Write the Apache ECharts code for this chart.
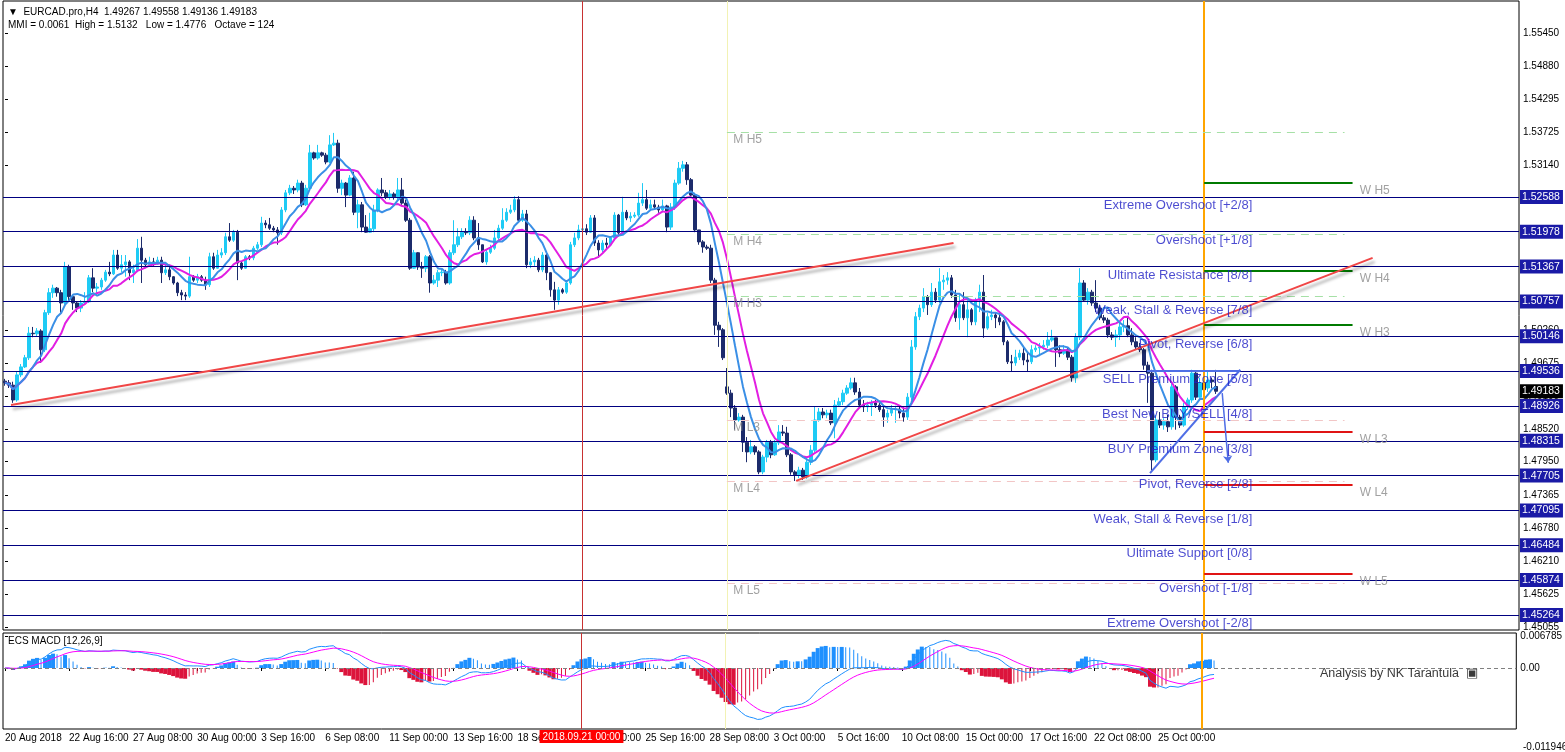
<!DOCTYPE html>
<html>
<head>
<meta charset="utf-8">
<title>EURCAD.pro,H4</title>
<script src="https://cdn.jsdelivr.net/npm/echarts@6/dist/echarts.min.js"></script>
<style>
html,body{margin:0;padding:0;background:#ffffff;}
#chart{width:1565px;height:752px;}
</style>
</head>
<body>
<div id="chart"></div>
<script>
// ================= DATA =================
const open = [
1.4936,1.4933,1.4929,1.4903,1.4947,1.4961,1.4977,1.5020,1.5019,1.5024,
1.4991,1.5056,1.5091,1.5099,1.5091,1.5073,1.5136,1.5084,1.5073,1.5064,
1.5073,1.5075,1.5117,1.5099,1.5101,1.5113,1.5127,1.5124,1.5157,1.5134,
1.5140,1.5145,1.5126,1.5131,1.5169,1.5148,1.5140,1.5145,1.5141,1.5148,
1.5126,1.5131,1.5119,1.5108,1.5091,1.5087,1.5085,1.5119,1.5113,1.5119,
1.5113,1.5105,1.5154,1.5134,1.5157,1.5161,1.5189,1.5183,1.5197,1.5143,
1.5134,1.5154,1.5152,1.5169,1.5175,1.5213,1.5210,1.5204,1.5201,1.5196,
1.5236,1.5266,1.5274,1.5271,1.5283,1.5245,1.5274,1.5336,1.5327,1.5336,
1.5332,1.5320,1.5350,1.5353,1.5274,1.5283,1.5262,1.5292,1.5232,1.5245,
1.5206,1.5197,1.5203,1.5236,1.5271,1.5266,1.5259,1.5264,1.5259,1.5271,
1.5248,1.5218,1.5134,1.5161,1.5136,1.5134,1.5154,1.5108,1.5113,1.5126,
1.5127,1.5108,1.5161,1.5175,1.5189,1.5197,1.5196,1.5218,1.5187,1.5175,
1.5145,1.5162,1.5169,1.5187,1.5204,1.5218,1.5232,1.5236,1.5254,1.5218,
1.5229,1.5140,1.5145,1.5148,1.5131,1.5157,1.5126,1.5096,1.5078,1.5096,
1.5092,1.5108,1.5175,1.5187,1.5201,1.5203,1.5197,1.5222,1.5178,1.5166,
1.5178,1.5175,1.5187,1.5227,1.5196,1.5232,1.5222,1.5225,1.5227,1.5248,
1.5254,1.5239,1.5245,1.5241,1.5236,1.5243,1.5206,1.5241,1.5283,1.5309,
1.5315,1.5289,1.5262,1.5201,1.5180,1.5171,1.5169,1.5113,1.5034,1.5026,
1.4926,1.4915,1.4889,1.4868,1.4873,1.4829,1.4812,1.4821,1.4812,1.4777,
1.4803,1.4829,1.4807,1.4828,1.4847,1.4845,1.4807,1.4777,1.4772,1.4780,
1.4768,1.4794,1.4815,1.4868,1.4882,1.4877,1.4880,1.4863,1.4894,1.4900,
1.4915,1.4924,1.4933,1.4917,1.4894,1.4891,1.4894,1.4898,1.4894,1.4886,
1.4873,1.4880,1.4886,1.4887,1.4880,1.4873,1.4908,1.4996,1.5049,1.5064,
1.5084,1.5070,1.5092,1.5078,1.5110,1.5113,1.5117,1.5087,1.5047,1.5070,
1.5047,1.5061,1.5040,1.5078,1.5092,1.5029,1.5049,1.5052,1.5047,1.5040,
1.5005,1.4970,1.4968,1.4978,1.4985,1.4973,1.4970,1.4991,1.4994,1.4996,
1.4999,1.5008,1.5012,1.4991,1.4985,1.4991,1.4978,1.4942,1.5013,1.5108,
1.5078,1.5092,1.5073,1.5064,1.5047,1.5043,1.5017,1.5013,1.5017,1.5031,
1.5033,1.5017,1.5005,1.4996,1.4991,1.4964,1.4950,1.4798,1.4868,1.4859,
1.4865,1.4856,1.4926,1.4873,1.4859,1.4891,1.4903,1.4950,1.4908,1.4933,
1.4924,1.4938,1.49267
];
const high = [
1.4940,1.4938,1.4935,1.4952,1.4966,1.4982,1.5031,1.5031,1.5029,1.5027,
1.5061,1.5099,1.5105,1.5101,1.5096,1.5145,1.5140,1.5087,1.5075,1.5078,
1.5092,1.5122,1.5134,1.5108,1.5117,1.5131,1.5145,1.5166,1.5166,1.5157,
1.5157,1.5148,1.5140,1.5185,1.5189,1.5152,1.5154,1.5152,1.5154,1.5154,
1.5140,1.5140,1.5120,1.5110,1.5096,1.5092,1.5154,1.5122,1.5124,1.5122,
1.5119,1.5161,1.5161,1.5166,1.5169,1.5196,1.5213,1.5201,1.5201,1.5145,
1.5157,1.5157,1.5173,1.5180,1.5224,1.5218,1.5222,1.5208,1.5206,1.5241,
1.5271,1.5280,1.5278,1.5289,1.5287,1.5280,1.5350,1.5338,1.5350,1.5338,
1.5336,1.5367,1.5371,1.5359,1.5289,1.5285,1.5297,1.5303,1.5254,1.5250,
1.5227,1.5231,1.5245,1.5274,1.5292,1.5271,1.5271,1.5267,1.5292,1.5292,
1.5254,1.5222,1.5166,1.5162,1.5145,1.5157,1.5157,1.5122,1.5131,1.5134,
1.5131,1.5166,1.5218,1.5204,1.5204,1.5204,1.5225,1.5225,1.5213,1.5175,
1.5166,1.5175,1.5201,1.5210,1.5239,1.5239,1.5245,1.5260,1.5260,1.5236,
1.5236,1.5152,1.5155,1.5152,1.5162,1.5161,1.5127,1.5110,1.5101,1.5099,
1.5113,1.5180,1.5196,1.5210,1.5204,1.5211,1.5227,1.5227,1.5183,1.5183,
1.5187,1.5190,1.5232,1.5229,1.5259,1.5236,1.5232,1.5232,1.5266,1.5283,
1.5271,1.5254,1.5254,1.5245,1.5254,1.5245,1.5248,1.5289,1.5320,1.5322,
1.5320,1.5292,1.5266,1.5201,1.5183,1.5175,1.5175,1.5117,1.5040,1.5029,
1.4959,1.4921,1.4894,1.4880,1.4877,1.4838,1.4833,1.4824,1.4815,1.4807,
1.4833,1.4833,1.4833,1.4859,1.4859,1.4856,1.4810,1.4780,1.4786,1.4784,
1.4801,1.4824,1.4891,1.4889,1.4889,1.4886,1.4886,1.4903,1.4907,1.4921,
1.4929,1.4942,1.4942,1.4924,1.4903,1.4900,1.4903,1.4903,1.4898,1.4891,
1.4886,1.4894,1.4893,1.4894,1.4891,1.4915,1.5008,1.5057,1.5070,1.5099,
1.5087,1.5108,1.5099,1.5134,1.5122,1.5127,1.5122,1.5096,1.5087,1.5092,
1.5078,1.5064,1.5082,1.5105,1.5122,1.5056,1.5061,1.5057,1.5056,1.5043,
1.5008,1.4982,1.4991,1.4991,1.4994,1.4987,1.4999,1.4999,1.5003,1.5008,
1.5022,1.5026,1.5012,1.4999,1.4999,1.4994,1.4982,1.5020,1.5134,1.5113,
1.5099,1.5096,1.5113,1.5070,1.5052,1.5047,1.5022,1.5026,1.5040,1.5043,
1.5049,1.5029,1.5013,1.5003,1.4994,1.4970,1.4956,1.4877,1.4882,1.4871,
1.4877,1.4933,1.4929,1.4877,1.4898,1.4907,1.4956,1.4952,1.4942,1.4947,
1.4952,1.4942,1.49558
];
const low = [
1.4928,1.4924,1.4898,1.4900,1.4943,1.4959,1.4973,1.5013,1.5015,1.4968,
1.4987,1.5052,1.5082,1.5084,1.5056,1.5070,1.5078,1.5061,1.5057,1.5057,
1.5070,1.5073,1.5092,1.5085,1.5096,1.5110,1.5120,1.5122,1.5131,1.5127,
1.5119,1.5113,1.5108,1.5127,1.5108,1.5134,1.5136,1.5138,1.5140,1.5108,
1.5122,1.5113,1.5105,1.5085,1.5078,1.5078,1.5082,1.5110,1.5108,1.5110,
1.5096,1.5101,1.5131,1.5133,1.5152,1.5157,1.5180,1.5180,1.5113,1.5131,
1.5133,1.5148,1.5148,1.5166,1.5171,1.5204,1.5201,1.5197,1.5175,1.5192,
1.5232,1.5262,1.5264,1.5267,1.5241,1.5243,1.5271,1.5324,1.5324,1.5329,
1.5316,1.5318,1.5348,1.5266,1.5262,1.5241,1.5260,1.5227,1.5204,1.5197,
1.5196,1.5196,1.5197,1.5232,1.5260,1.5255,1.5254,1.5254,1.5254,1.5245,
1.5215,1.5131,1.5133,1.5131,1.5117,1.5127,1.5091,1.5105,1.5101,1.5120,
1.5105,1.5105,1.5157,1.5171,1.5185,1.5192,1.5192,1.5183,1.5166,1.5143,
1.5140,1.5159,1.5166,1.5183,1.5201,1.5215,1.5229,1.5232,1.5215,1.5215,
1.5134,1.5134,1.5138,1.5127,1.5127,1.5113,1.5084,1.5061,1.5070,1.5089,
1.5089,1.5105,1.5171,1.5183,1.5196,1.5192,1.5196,1.5173,1.5152,1.5162,
1.5169,1.5173,1.5183,1.5190,1.5192,1.5218,1.5215,1.5222,1.5224,1.5243,
1.5236,1.5236,1.5236,1.5231,1.5232,1.5197,1.5201,1.5236,1.5280,1.5303,
1.5280,1.5257,1.5197,1.5175,1.5161,1.5166,1.5108,1.5017,1.4996,1.4973,
1.4912,1.4873,1.4851,1.4865,1.4812,1.4794,1.4808,1.4807,1.4773,1.4773,
1.4794,1.4801,1.4805,1.4824,1.4840,1.4803,1.4772,1.4761,1.4766,1.4763,
1.4765,1.4789,1.4812,1.4865,1.4871,1.4871,1.4859,1.4836,1.4891,1.4894,
1.4912,1.4921,1.4912,1.4889,1.4882,1.4882,1.4875,1.4889,1.4882,1.4856,
1.4863,1.4875,1.4863,1.4871,1.4865,1.4868,1.4903,1.4991,1.5043,1.5057,
1.5052,1.5066,1.5073,1.5073,1.5096,1.5105,1.5082,1.5040,1.5026,1.5043,
1.5013,1.5034,1.5034,1.5057,1.5012,1.5026,1.5043,1.5029,1.5034,1.4999,
1.4966,1.4952,1.4963,1.4973,1.4964,1.4952,1.4966,1.4987,1.4982,1.4991,
1.4994,1.5005,1.4961,1.4978,1.4982,1.4973,1.4935,1.4933,1.5008,1.5075,
1.5070,1.5068,1.5057,1.5043,1.5038,1.5012,1.5008,1.4996,1.5008,1.5022,
1.5013,1.4999,1.4991,1.4987,1.4956,1.4898,1.4780,1.4794,1.4854,1.4851,
1.4847,1.4851,1.4851,1.4854,1.4856,1.4886,1.4898,1.4903,1.4907,1.4912,
1.4917,1.4924,1.49136
];
const close = [
1.4933,1.4929,1.4903,1.4947,1.4961,1.4977,1.5020,1.5019,1.5024,1.4991,
1.5056,1.5091,1.5099,1.5091,1.5073,1.5136,1.5084,1.5073,1.5064,1.5073,
1.5075,1.5117,1.5099,1.5101,1.5113,1.5127,1.5124,1.5157,1.5134,1.5140,
1.5145,1.5126,1.5131,1.5169,1.5148,1.5140,1.5145,1.5141,1.5148,1.5126,
1.5131,1.5119,1.5108,1.5091,1.5087,1.5085,1.5119,1.5113,1.5119,1.5113,
1.5105,1.5154,1.5134,1.5157,1.5161,1.5189,1.5183,1.5197,1.5143,1.5134,
1.5154,1.5152,1.5169,1.5175,1.5213,1.5210,1.5204,1.5201,1.5196,1.5236,
1.5266,1.5274,1.5271,1.5283,1.5245,1.5274,1.5336,1.5327,1.5336,1.5332,
1.5320,1.5350,1.5353,1.5274,1.5283,1.5262,1.5292,1.5232,1.5245,1.5206,
1.5197,1.5203,1.5236,1.5271,1.5266,1.5259,1.5264,1.5259,1.5271,1.5248,
1.5218,1.5134,1.5161,1.5136,1.5134,1.5154,1.5108,1.5113,1.5126,1.5127,
1.5108,1.5161,1.5175,1.5189,1.5197,1.5196,1.5218,1.5187,1.5175,1.5145,
1.5162,1.5169,1.5187,1.5204,1.5218,1.5232,1.5236,1.5254,1.5218,1.5229,
1.5140,1.5145,1.5148,1.5131,1.5157,1.5126,1.5096,1.5078,1.5096,1.5092,
1.5108,1.5175,1.5187,1.5201,1.5203,1.5197,1.5222,1.5178,1.5166,1.5178,
1.5175,1.5187,1.5227,1.5196,1.5232,1.5222,1.5225,1.5227,1.5248,1.5254,
1.5239,1.5245,1.5241,1.5236,1.5243,1.5206,1.5241,1.5283,1.5309,1.5315,
1.5289,1.5262,1.5201,1.5180,1.5171,1.5169,1.5113,1.5034,1.5026,1.4977,
1.4915,1.4889,1.4868,1.4873,1.4829,1.4812,1.4821,1.4812,1.4777,1.4803,
1.4829,1.4807,1.4828,1.4847,1.4845,1.4807,1.4777,1.4772,1.4780,1.4768,
1.4794,1.4815,1.4868,1.4882,1.4877,1.4880,1.4863,1.4894,1.4900,1.4915,
1.4924,1.4933,1.4917,1.4894,1.4891,1.4894,1.4898,1.4894,1.4886,1.4873,
1.4880,1.4886,1.4887,1.4880,1.4873,1.4908,1.4996,1.5049,1.5064,1.5084,
1.5070,1.5092,1.5078,1.5110,1.5113,1.5117,1.5087,1.5047,1.5070,1.5047,
1.5061,1.5040,1.5078,1.5092,1.5029,1.5049,1.5052,1.5047,1.5040,1.5005,
1.4970,1.4968,1.4978,1.4985,1.4973,1.4970,1.4991,1.4994,1.4996,1.4999,
1.5008,1.5012,1.4991,1.4985,1.4991,1.4978,1.4942,1.5013,1.5108,1.5078,
1.5092,1.5073,1.5064,1.5047,1.5043,1.5017,1.5013,1.5017,1.5031,1.5033,
1.5017,1.5005,1.4996,1.4991,1.4964,1.4950,1.4798,1.4868,1.4859,1.4865,
1.4856,1.4926,1.4873,1.4859,1.4891,1.4903,1.4950,1.4908,1.4933,1.4921,
1.4938,1.4935,1.49183
];

// time-axis tick labels, one every 16 H4 bars starting at bar 0
const tickLabels = ['20 Aug 2018','22 Aug 16:00','27 Aug 08:00','30 Aug 00:00','3 Sep 16:00','6 Sep 08:00',
  '11 Sep 00:00','13 Sep 16:00','18 Sep 08:00','21 Sep 00:00','25 Sep 16:00','28 Sep 08:00','3 Oct 00:00',
  '5 Oct 16:00','10 Oct 08:00','15 Oct 00:00','17 Oct 16:00','22 Oct 08:00','25 Oct 00:00'];
const TICK_EVERY = 16;
const cursorLabel = '2018.09.21 00:00';

// plain price-scale tick labels
const priceTicks = [1.55450,1.54880,1.54295,1.53725,1.53140,1.50260,1.49675,1.49100,1.48520,1.47950,
  1.47365,1.46780,1.46210,1.45625,1.45055];

// Murrey math octave levels
const octaveLevels = [1.52588,1.51978,1.51367,1.50757,1.50146,1.49536,1.48926,1.48315,1.47705,1.47095,1.46484,1.45874,1.45264];
const octaveNames = ['Extreme Overshoot [+2/8]','Overshoot [+1/8]','Ultimate Resistance [8/8]','Weak, Stall & Reverse [7/8]',
  'Pivot, Reverse [6/8]','SELL Premium Zone [5/8]','Best New BUY/SELL [4/8]','BUY Premium Zone [3/8]','Pivot, Reverse [2/8]',
  'Weak, Stall & Reverse [1/8]','Ultimate Support [0/8]','Overshoot [-1/8]','Extreme Overshoot [-2/8]'];

// monthly / weekly pivot levels
const monthNames = ['M H5','M H4','M H3','M L3','M L4','M L5'];
const monthLevels = [1.53727,1.51940,1.50854,1.48681,1.47612,1.45825];
const monthSpan = [180, 334];
const weekNames = ['W H5','W H4','W H3','W L3','W L4','W L5'];
const weekLevels = [1.52833,1.51292,1.50345,1.48471,1.47542,1.45983];
const weekSpan = [299, 336];

// drawn objects: [bar index, price]
const trend1 = [[1.5,1.48944],[236.5,1.51782]];
const trend2 = [[197.25,1.47612],[341,1.51519]];
const triTop = [[284.75,1.4954],[308,1.4954]];
const triSide = [[285.5,1.4775],[308,1.4956]];
const arrowPts = [[303.5,1.4915],[305,1.4793]];
const cursorBar = 144, monthStartBar = 180, weekStartBar = 299;

// indicator settings
const MA_FAST = 8, MA_SLOW = 13;
const MACD_FAST = 12, MACD_SLOW = 26, MACD_SIGNAL = 9, HIST_SCALE = 2;
const macdTicks = [0.006785, 0];
const macdBottomLabel = '-0.011946';

// ================= CHART =================
const chart = echarts.init(document.getElementById('chart'), null, {renderer: 'canvas'});
const N = close.length;
const SLOTS = 378;
const cats = Array.from({length: SLOTS}, (_, i) => String(i));
const FONT = 'Liberation Sans';

function ema(src, n) {
  const k = 2 / (n + 1); let prev = null;
  return src.map(v => (prev = (prev === null ? v : prev + k * (v - prev))));
}
function sma(src, n) {
  return src.map((v, i) => {
    const from = Math.max(0, i - n + 1); let s = 0;
    for (let j = from; j <= i; j++) s += src[j];
    return s / (i - from + 1);
  });
}
const maFast = sma(close, MA_FAST);
const maSlow = sma(close, MA_SLOW);
const eF = ema(close, MACD_FAST), eS = ema(close, MACD_SLOW);
const macd = eF.map((v, i) => v - eS[i]);
const signal = ema(macd, MACD_SIGNAL);
const hist = macd.map((v, i) => (v - signal[i]) * HIST_SCALE);

const BULL = '#1ecbf5', BEAR = '#1c2b6b';
const H_BLUE = '#1e90ff', H_RED = '#dc143c';

const histThick = [], histThin = [];
hist.forEach((h, i) => {
  const p = i > 0 ? hist[i - 1] : 0;
  const grow = Math.abs(h) >= Math.abs(p);
  const col = h >= 0 ? H_BLUE : H_RED;
  if (grow) histThick.push({value: h, itemStyle: {color: col}});
  else { histThick.push('-'); histThin.push({value: [i, h], itemStyle: {color: col}}); }
});

const candleData = open.map((o, i) => [o, close[i], low[i], high[i]]);
const tickShow = (idx) => idx % TICK_EVERY === 0 && idx / TICK_EVERY < tickLabels.length;

const LABEL_BAR = 311, M_LABEL_BAR = 181.6, W_LABEL_BAR = 337.8;

const seg = (a, b, style, extra) => [Object.assign({coord: a, lineStyle: style}, extra || {}), {coord: b}];

const option = {
  animation: false,
  backgroundColor: '#ffffff',
  textStyle: {fontFamily: FONT},
  grid: [
    {left: 3, right: 46, top: 1, height: 629, show: true, borderColor: '#000', borderWidth: 1, backgroundColor: 'transparent'},
    {left: 3, right: 46, top: 633, height: 96, show: true, borderColor: '#000', borderWidth: 1, backgroundColor: 'transparent'}
  ],
  xAxis: [
    {type: 'category', gridIndex: 0, data: cats, boundaryGap: true, axisLine: {show: false}, axisTick: {show: false}, axisLabel: {show: false}, splitLine: {show: false}},
    {type: 'category', gridIndex: 1, data: cats, boundaryGap: true, axisLine: {show: false},
      axisTick: {show: true, alignWithLabel: true, interval: tickShow, length: 3, lineStyle: {color: '#000'}},
      axisLabel: {show: true, interval: tickShow, formatter: (v, i) => tickLabels[i / TICK_EVERY], align: 'left',
        color: '#000', fontSize: 10, fontFamily: FONT, margin: 4},
      splitLine: {show: false}},
    {type: 'value', gridIndex: 0, min: -0.5, max: SLOTS - 0.5, show: false},
    {type: 'value', gridIndex: 1, min: -0.5, max: SLOTS - 0.5, show: false}
  ],
  yAxis: [
    {type: 'value', gridIndex: 0, position: 'right', min: 1.45000, max: 1.56021, splitLine: {show: false},
      axisLine: {show: false},
      axisTick: {show: true, customValues: priceTicks, length: 3, lineStyle: {color: '#000'}},
      axisLabel: {show: true, customValues: priceTicks, formatter: v => v.toFixed(5), color: '#000', fontSize: 10, fontFamily: FONT, margin: 4}},
    {type: 'value', gridIndex: 1, position: 'right', min: -0.01307, max: 0.0075, splitLine: {show: false},
      axisLine: {show: false},
      axisTick: {show: true, customValues: macdTicks, length: 3, lineStyle: {color: '#000'}},
      axisLabel: {show: true, customValues: macdTicks, formatter: v => (v === 0 ? '0.00' : v.toFixed(6)), color: '#000', fontSize: 10, fontFamily: FONT, margin: 4}}
  ],
  series: [
    // Murrey octave horizontal lines + price-scale boxes
    {type: 'line', name: 'levels', xAxisIndex: 2, yAxisIndex: 0, data: [], z: 1, silent: true,
      markLine: {silent: true, symbol: ['none', 'none'], animation: false, precision: 6,
        lineStyle: {color: '#000080', width: 1, type: 'solid'},
        label: {show: true, position: 'end', distance: 1, formatter: p => Number(p.value).toFixed(5),
          backgroundColor: '#1a1aa6', color: '#ffffff', padding: [2, 3, 1, 2], fontSize: 10.5, fontFamily: FONT},
        data: octaveLevels.map(v => ({yAxis: v})).concat([
          {yAxis: close[N - 1], lineStyle: {color: 'rgba(0,0,0,0)', width: 1},
            label: {backgroundColor: '#000000', color: '#ffffff'}}
        ])}},
    // vertical lines (main panel) + monthly / weekly pivot segments
    {type: 'line', name: 'objects', xAxisIndex: 2, yAxisIndex: 0, data: [], z: 2, silent: true,
      markLine: {silent: true, symbol: ['none', 'none'], animation: false, precision: 6, label: {show: false},
        data: [
          {xAxis: cursorBar, lineStyle: {color: '#c83232', width: 1, type: 'solid'}},
          {xAxis: monthStartBar, lineStyle: {color: '#f2f2b4', width: 1, type: 'solid'}},
          {xAxis: weekStartBar, lineStyle: {color: '#ffa500', width: 2, type: 'solid'}}
        ].concat(
          monthLevels.map((v, i) => seg([monthSpan[0], v], [monthSpan[1], v],
            {color: i < 3 ? '#a6e0a6' : '#f2c6c6', width: 1, type: [8, 6]})),
          weekLevels.map((v, i) => seg([weekSpan[0], v], [weekSpan[1], v],
            {color: i < 3 ? '#007a00' : '#e01414', width: 2, type: 'solid'}))
        )}},
    // price candles
    {type: 'candlestick', name: 'EURCAD', xAxisIndex: 0, yAxisIndex: 0, data: candleData, barWidth: 3, z: 3,
      itemStyle: {color: BULL, color0: BEAR, borderColor: BULL, borderColor0: BEAR, borderWidth: 1}},
    // moving averages
    {type: 'line', name: 'MA slow', xAxisIndex: 0, yAxisIndex: 0, data: maSlow, symbol: 'none', z: 4,
      lineStyle: {color: '#e21ee2', width: 2}},
    {type: 'line', name: 'MA fast', xAxisIndex: 0, yAxisIndex: 0, data: maFast, symbol: 'none', z: 4,
      lineStyle: {color: '#3a8fe6', width: 2}},
    // red trend lines
    {type: 'line', name: 'trend1', xAxisIndex: 2, yAxisIndex: 0, data: trend1, symbol: 'none', z: 5,
      lineStyle: {color: '#f04646', width: 2, shadowColor: 'rgba(0,0,0,0.35)', shadowBlur: 3, shadowOffsetX: 2, shadowOffsetY: 4}},
    {type: 'line', name: 'trend2', xAxisIndex: 2, yAxisIndex: 0, data: trend2, symbol: 'none', z: 5,
      lineStyle: {color: '#f04646', width: 2, shadowColor: 'rgba(0,0,0,0.35)', shadowBlur: 3, shadowOffsetX: 2, shadowOffsetY: 4}},
    // blue triangle + arrow
    {type: 'line', name: 'triangle', xAxisIndex: 2, yAxisIndex: 0, data: [], z: 5, silent: true,
      markLine: {silent: true, symbol: ['none', 'none'], animation: false, precision: 6, label: {show: false},
        data: [
          seg(triTop[0], triTop[1], {color: '#4f6ee6', width: 2, type: 'solid'}),
          seg(triSide[0], triSide[1], {color: '#4f6ee6', width: 2, type: 'solid'}),
          [{coord: arrowPts[0], lineStyle: {color: '#4f6ee6', width: 1.5, type: 'solid'}, symbol: 'none'},
           {coord: arrowPts[1], symbol: 'arrow', symbolSize: 7}]
        ]}},
    // octave names
    {type: 'scatter', name: 'octave names', xAxisIndex: 2, yAxisIndex: 0, symbolSize: 0, z: 6, silent: true,
      data: octaveLevels.map((v, i) => ({value: [LABEL_BAR, v], name: octaveNames[i]})),
      label: {show: true, position: 'left', distance: 0, offset: [0, 8.5], formatter: p => p.name,
        color: '#1e1ec4', fontSize: 13, fontFamily: FONT}},
    {type: 'scatter', name: 'month names', xAxisIndex: 2, yAxisIndex: 0, symbolSize: 0, z: 6, silent: true,
      data: monthLevels.map((v, i) => ({value: [M_LABEL_BAR, v], name: monthNames[i]})),
      label: {show: true, position: 'right', distance: 0, offset: [0, 8], formatter: p => p.name,
        color: '#8a8a8a', fontSize: 12, fontFamily: FONT}},
    {type: 'scatter', name: 'week names', xAxisIndex: 2, yAxisIndex: 0, symbolSize: 0, z: 6, silent: true,
      data: weekLevels.map((v, i) => ({value: [W_LABEL_BAR, v], name: weekNames[i]})),
      label: {show: true, position: 'right', distance: 0, offset: [0, 7.5], formatter: p => p.name,
        color: '#8a8a8a', fontSize: 12, fontFamily: FONT}},
    // ---- MACD panel ----
    {type: 'line', name: 'macd objects', xAxisIndex: 3, yAxisIndex: 1, data: [], z: 1, silent: true,
      markLine: {silent: true, symbol: ['none', 'none'], animation: false, precision: 8, label: {show: false},
        data: [
          {yAxis: 0, lineStyle: {color: '#808080', width: 1, type: [4, 3]}},
          {xAxis: cursorBar, lineStyle: {color: '#c83232', width: 1, type: 'solid'},
            label: {show: true, position: 'start', distance: 1, formatter: cursorLabel, backgroundColor: '#ff0000',
              color: '#ffffff', padding: [2, 3, 1, 3], fontSize: 10, fontFamily: FONT}},
          {xAxis: monthStartBar, lineStyle: {color: '#f2f2b4', width: 1, type: 'solid'}},
          {xAxis: weekStartBar, lineStyle: {color: '#ffa500', width: 2, type: 'solid'}}
        ]}},
    {type: 'bar', name: 'hist', xAxisIndex: 1, yAxisIndex: 1, data: histThick, barWidth: 4, z: 2, silent: true},
    {type: 'bar', name: 'hist fading', xAxisIndex: 3, yAxisIndex: 1, data: histThin, barWidth: 1, z: 2, silent: true},
    {type: 'line', name: 'MACD', xAxisIndex: 1, yAxisIndex: 1, data: macd, symbol: 'none', z: 3,
      lineStyle: {color: '#1e90ff', width: 1}},
    {type: 'line', name: 'Signal', xAxisIndex: 1, yAxisIndex: 1, data: signal, symbol: 'none', z: 3,
      lineStyle: {color: '#ff00ff', width: 1}}
  ],
  graphic: [
    {type: 'text', x: 8, y: 12, z: 10, style: {text: '\u25BC  EURCAD.pro,H4  ' + [open[N-1], high[N-1], low[N-1], close[N-1]].map(v => v.toFixed(5)).join(' '),
      fill: '#000', font: '10px "Liberation Sans"', verticalAlign: 'middle'}},
    {type: 'text', x: 8, y: 25, z: 10, style: {text: 'MMI = 0.0061  High = 1.5132   Low = 1.4776   Octave = 124',
      fill: '#000', font: '10px "Liberation Sans"', verticalAlign: 'middle'}},
    {type: 'text', x: 8, y: 641, z: 10, style: {text: 'ECS MACD [12,26,9]', fill: '#000', font: '10px "Liberation Sans"', verticalAlign: 'middle'}},
    {type: 'text', x: 1320, y: 674, z: 10, style: {text: 'Analysis by NK Tarantula  \u25A3', fill: '#3a3a3a', font: '12.5px "Liberation Sans"', verticalAlign: 'middle'}},
    {type: 'text', x: 1523, y: 747, z: 10, style: {text: macdBottomLabel, fill: '#000', font: '10px "Liberation Sans"', verticalAlign: 'middle'}}
  ]
};
chart.setOption(option);
</script>
</body>
</html>
